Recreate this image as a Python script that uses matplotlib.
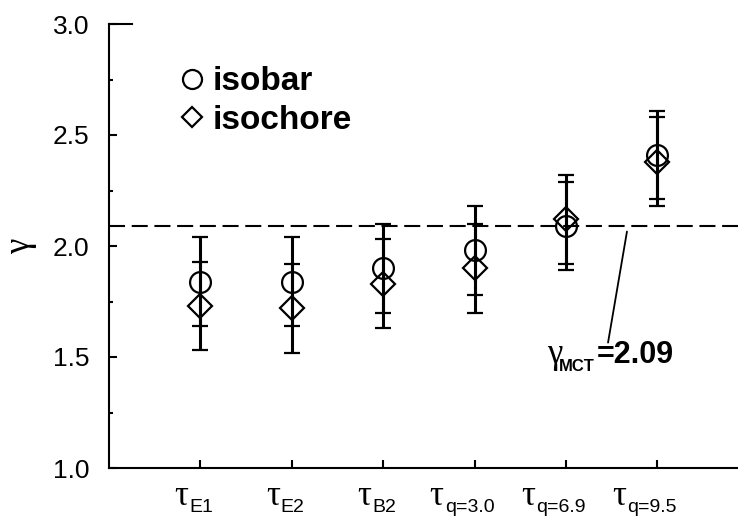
import matplotlib
matplotlib.use('Agg')
import matplotlib.pyplot as plt
import numpy as np
from matplotlib.ticker import MultipleLocator
from matplotlib.lines import Line2D

# ---- data ----
categories = ['E1', 'E2', 'B2', 'q=3.0', 'q=6.9', 'q=9.5']
isobar = [1.84, 1.84, 1.90, 1.98, 2.09, 2.41]
isobar_err = [0.20, 0.20, 0.20, 0.20, 0.20, 0.20]
isochore = [1.73, 1.72, 1.83, 1.90, 2.12, 2.38]
isochore_err = [0.20, 0.20, 0.20, 0.20, 0.20, 0.20]
gamma_mct = 2.09
y_ticks = [1.0, 1.5, 2.0, 2.5, 3.0]
series_labels = ['isobar', 'isochore']

plt.rcParams['font.family'] = ['Liberation Sans', 'DejaVu Sans']
SERIF = ['Liberation Serif', 'DejaVu Serif']

W, H = 738, 517
fig = plt.figure(figsize=(W / 100, H / 100), dpi=100)
ax = fig.add_axes([109 / W, 1 - 468 / H, 629 / W, 444 / H])

x = np.arange(1, len(categories) + 1)

common = dict(mfc='none', mec='black', mew=1.6, ecolor='black',
              elinewidth=2.2, capsize=5.8, capthick=1.6, linestyle='none')
ax.errorbar(x, isobar, yerr=isobar_err, marker='o', ms=15, zorder=3, **common)
ax.errorbar(x, isochore, yerr=isochore_err, marker='D', ms=12, zorder=3, **common)

# MCT reference line
ax.axhline(gamma_mct, color='black', lw=1.5, linestyle=(0, (7.7, 3.2)), zorder=2)

ax.set_xlim(0, 629 / 91.4)
ax.set_ylim(y_ticks[0], y_ticks[-1])
ax.set_yticks(y_ticks)
ax.set_yticklabels([f'{v:.1f}' for v in y_ticks])
ax.yaxis.set_minor_locator(MultipleLocator(0.25))
ax.set_xticks(x)
ax.set_xticklabels([''] * len(x))

ax.spines['right'].set_visible(False)
ax.spines['top'].set_bounds(0, 0.25)
for s in ['left', 'bottom', 'top']:
    ax.spines[s].set_linewidth(1.5)

ax.tick_params(axis='y', which='major', direction='in', length=5.4, width=1.5,
               labelsize=19, pad=14)
ax.tick_params(axis='y', which='minor', direction='in', length=2.7, width=1.5)
ax.tick_params(axis='x', which='major', direction='in', length=5.8, width=1.5)
ax.tick_params(axis='x', which='minor', length=0)

# custom x labels: tau with sans subscript
for xi, sub in zip(x, categories):
    shift = 12 + 6.3 * (len(sub) - 2)
    ax.annotate('τ', xy=(xi, 0), xycoords=('data', 'axes fraction'),
                xytext=(-shift, -37), textcoords='offset pixels',
                ha='right', va='baseline', fontsize=25, family=SERIF)
    ax.annotate(sub, xy=(xi, 0), xycoords=('data', 'axes fraction'),
                xytext=(-shift + 1, -44), textcoords='offset pixels',
                ha='left', va='baseline', fontsize=14)

# y label
ax.set_ylabel('γ', fontsize=25, family=SERIF)
ax.yaxis.set_label_coords(-0.115, 0.5)

# legend
handles = [Line2D([], [], marker='o', ms=13.7, mfc='none', mec='black', mew=1.6, ls='none'),
           Line2D([], [], marker='D', ms=10.5, mfc='none', mec='black', mew=1.6, ls='none')]
ax.legend(handles, series_labels, loc='upper left', bbox_to_anchor=(0.116, 0.905),
          frameon=False, prop={'weight': 'bold', 'size': 24}, handlelength=0.6,
          handletextpad=0.33, labelspacing=0.23, borderpad=0, borderaxespad=0)

# annotation for gamma_MCT
ax.annotate('', xy=(5.667, gamma_mct - 0.025), xytext=(5.46, 1.565),
            arrowprops=dict(arrowstyle='-', lw=1.3, color='black',
                            shrinkA=0, shrinkB=0))
ax.annotate('γ', xy=(4.79, 1.475), xycoords='data', ha='left', va='baseline',
            fontsize=25, family=SERIF)
ax.annotate('MCT', xy=(4.79, 1.475), xycoords='data', xytext=(12, -8),
            textcoords='offset pixels', ha='left', va='baseline',
            fontsize=12, fontweight='bold')
ax.annotate(f'={gamma_mct:.2f}', xy=(4.79, 1.475), xycoords='data', xytext=(50, 0),
            textcoords='offset pixels', ha='left', va='baseline',
            fontsize=22, fontweight='bold')

fig.savefig('out.png', dpi=100)
